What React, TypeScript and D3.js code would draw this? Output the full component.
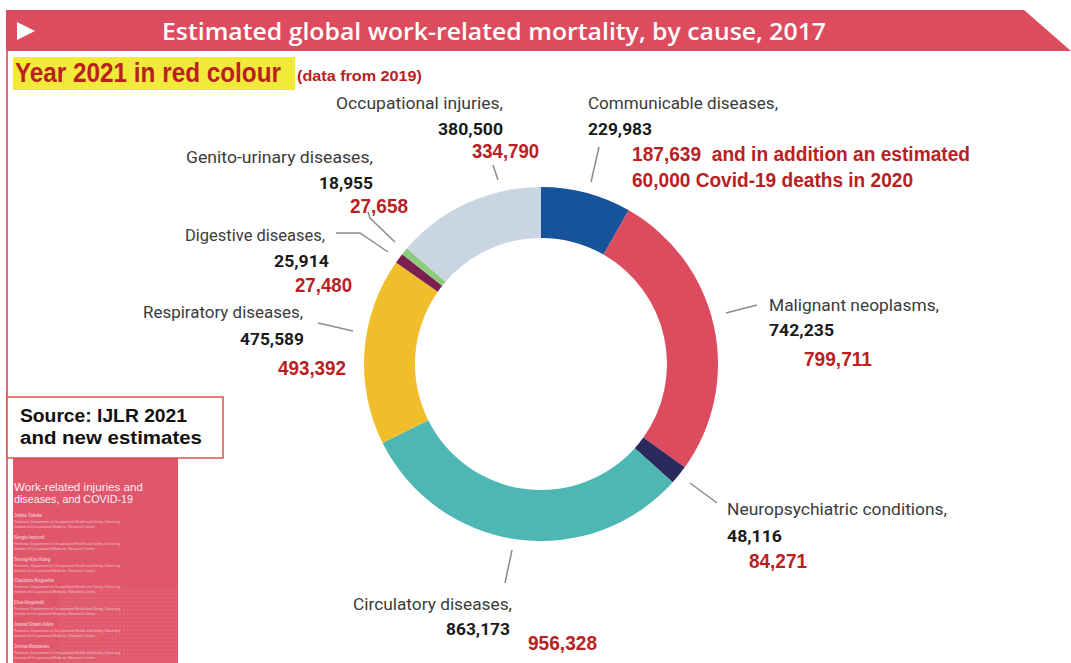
import React from "react";
import * as d3 from "d3";

const causes = [
  "Communicable diseases,",
  "Malignant neoplasms,",
  "Neuropsychiatric conditions,",
  "Circulatory diseases,",
  "Respiratory diseases,",
  "Digestive diseases,",
  "Genito-urinary diseases,",
  "Occupational injuries,",
];
const values2017 = [229983, 742235, 48116, 863173, 475589, 25914, 18955, 380500];
const values2019 = [187639, 799711, 84271, 956328, 493392, 27480, 27658, 334790];
const sliceColors = ["#16539a", "#dd4b5f", "#2b2a5c", "#4db7b4", "#f0bd2b", "#7b1f4f", "#8ccd7d", "#c9d5e3"];
const communicableNote = ["and in addition an estimated", "60,000 Covid-19 deaths in 2020"];
const coverAuthors = [
  "Jukka Takala",
  "Sergio Iavicoli",
  "Seong-Kyu Kang",
  "Claudina Nogueira",
  "Elsa Hogstedt",
  "Jawad Ghani Aikin",
  "Jorma Rantanen",
];

// label layout (x, widths, baselines) per cause, same order as causes
const labelLayout = [
  { nx: 588, nw: 190, ny: 109, vx: 588, vw: 64, vy: 135, rx: 632, rw: 70, ry: 161, line: [[599, 147], [591, 182]] },
  { nx: 769, nw: 170, ny: 311, vx: 769, vw: 65, vy: 336, rx: 804, rw: 68, ry: 366, line: [[757, 305], [726, 313]] },
  { nx: 727, nw: 220, ny: 515, vx: 727, vw: 55, vy: 542, rx: 749, rw: 58, ry: 568, line: [[690, 483], [717, 503]] },
  { nx: 353, nw: 159, ny: 610, vx: 446, vw: 64, vy: 635, rx: 528, rw: 69, ry: 650, line: [[512, 550], [505, 583]] },
  { nx: 143, nw: 160, ny: 318, vx: 240, vw: 64, vy: 345, rx: 278, rw: 68, ry: 375, line: [[318, 323], [353, 331]] },
  { nx: 185, nw: 140, ny: 241, vx: 274, vw: 55, vy: 267, rx: 295, rw: 57, ry: 292, line: [[336, 233], [360, 233], [388, 252]] },
  { nx: 186, nw: 187, ny: 163, vx: 319, vw: 54, vy: 189, rx: 350, rw: 58, ry: 213, line: [[368, 212], [370, 218], [395, 242]] },
  { nx: 336, nw: 167, ny: 109, vx: 438, vw: 65, vy: 135, rx: 472, rw: 67, ry: 158, line: [[493, 165], [498, 180]] },
];

const fmt = d3.format(",");
const RED = "#b8211f";
const ARIAL = "'Liberation Sans', Arial, sans-serif";

export default function App() {
  const cx = 541;
  const cy = 364;
  const pie = d3.pie<number>().sort(null).value((d) => d)(values2017);
  const arc = d3.arc<d3.PieArcDatum<number>>().innerRadius(126).outerRadius(177);
  const lineGen = d3.line();

  // faint map grid on cover
  const gridX = d3.range(60, 178, 4);
  const gridY = d3.range(590, 663, 4);

  return (
    <div style={{ position: "absolute", left: 0, top: 0 }}>
      <svg width={1071} height={663} style={{ display: "block", background: "#fff" }}>
        {/* left border */}
        <line x1={7} y1={10} x2={7} y2={663} stroke="#e36b7b" strokeWidth={2} />
        {/* header band */}
        <polygon points="6,10 1024,10 1071,51 6,51" fill="#dd4b5e" />
        <polygon points="17,22 35,31 17,40" fill="#fff" />
        <text x={162} y={40} fill="#fff" fontFamily="'Open Sans', sans-serif" fontWeight={600} fontSize={24}
          textLength={664} lengthAdjust="spacingAndGlyphs">
          Estimated global work-related mortality, by cause, 2017
        </text>

        {/* yellow note */}
        <rect x={13} y={57} width={282} height={33} fill="#f2ea3a" />
        <text transform="translate(15,82) scale(0.9,1)" fill={RED} fontFamily={ARIAL} fontWeight={700} fontSize={27}>
          Year 2021 in red colour
        </text>
        <text x={297} y={81} fill={RED} fontFamily={ARIAL} fontWeight={700} fontSize={15}
          textLength={125} lengthAdjust="spacingAndGlyphs">(data from 2019)</text>

        {/* donut */}
        <g transform={`translate(${cx},${cy})`}>
          {pie.map((d, i) => (
            <path key={i} d={arc(d) || ""} fill={sliceColors[i]} />
          ))}
        </g>

        {/* leader lines */}
        {labelLayout.map((l, i) => (
          <path key={"l" + i} d={lineGen(l.line as [number, number][]) || ""} fill="none" stroke="#8c8c8c" strokeWidth={1.5} />
        ))}

        {/* labels */}
        {labelLayout.map((l, i) => (
          <g key={"t" + i}>
            <text x={l.nx} y={l.ny} fill="#3b3b3b" fontFamily="Roboto, sans-serif" fontSize={17}
              textLength={l.nw} lengthAdjust="spacingAndGlyphs">{causes[i]}</text>
            <text x={l.vx} y={l.vy} fill="#1a1a1a" fontFamily="Roboto, sans-serif" fontWeight={700} fontSize={17}
              textLength={l.vw} lengthAdjust="spacingAndGlyphs">{fmt(values2017[i])}</text>
            {i === 0 ? (
              <>
                <text x={l.rx} y={l.ry} fill={RED} fontFamily={ARIAL} fontWeight={700} fontSize={20}
                  textLength={338} lengthAdjust="spacingAndGlyphs">
                  {fmt(values2019[i]) + "\u00a0 " + communicableNote[0]}
                </text>
                <text x={l.rx} y={l.ry + 26} fill={RED} fontFamily={ARIAL} fontWeight={700} fontSize={20}
                  textLength={281} lengthAdjust="spacingAndGlyphs">{communicableNote[1]}</text>
              </>
            ) : (
              <text x={l.rx} y={l.ry} fill={RED} fontFamily={ARIAL} fontWeight={700} fontSize={20}
                textLength={l.rw} lengthAdjust="spacingAndGlyphs">{fmt(values2019[i])}</text>
            )}
          </g>
        ))}

        {/* book cover */}
        <rect x={13} y={457} width={165} height={206} fill="#e0566a" />
        <g opacity={0.12} stroke="#fff" strokeWidth={0.6}>
          {gridX.map((x) => (
            <line key={"gx" + x} x1={x} y1={590} x2={x} y2={663} />
          ))}
          {gridY.map((y) => (
            <line key={"gy" + y} x1={60} y1={y} x2={178} y2={y} />
          ))}
        </g>
        <text x={14} y={491} fill="#fff" fontFamily={ARIAL} fontSize={10.5} opacity={0.92}
          textLength={129} lengthAdjust="spacingAndGlyphs">Work-related injuries and</text>
        <text x={14} y={503} fill="#fff" fontFamily={ARIAL} fontSize={10.5} opacity={0.92}
          textLength={119} lengthAdjust="spacingAndGlyphs">diseases, and COVID-19</text>
        {coverAuthors.map((name, i) => {
          const y = 517 + i * 21.8;
          return (
            <g key={"a" + i} fill="#fff" fontFamily={ARIAL} opacity={0.6}>
              <text x={14} y={y} fontSize={4.5} fontWeight={700}>{name}</text>
              <text x={14} y={y + 6} fontSize={3.5}>Professor, Department of Occupational Health and Safety, University</text>
              <text x={14} y={y + 11} fontSize={3.5}>Institute of Occupational Medicine, Research Centre</text>
            </g>
          );
        })}

        {/* source box */}
        <rect x={7} y={397} width={216} height={61} fill="#fff" stroke="#d9544f" strokeWidth={1.5} />
        <text x={20} y={422} fill="#111" fontFamily={ARIAL} fontWeight={700} fontSize={18}
          textLength={167} lengthAdjust="spacingAndGlyphs">Source: IJLR 2021</text>
        <text x={20} y={444} fill="#111" fontFamily={ARIAL} fontWeight={700} fontSize={18}
          textLength={182} lengthAdjust="spacingAndGlyphs">and new estimates</text>
      </svg>
    </div>
  );
}
